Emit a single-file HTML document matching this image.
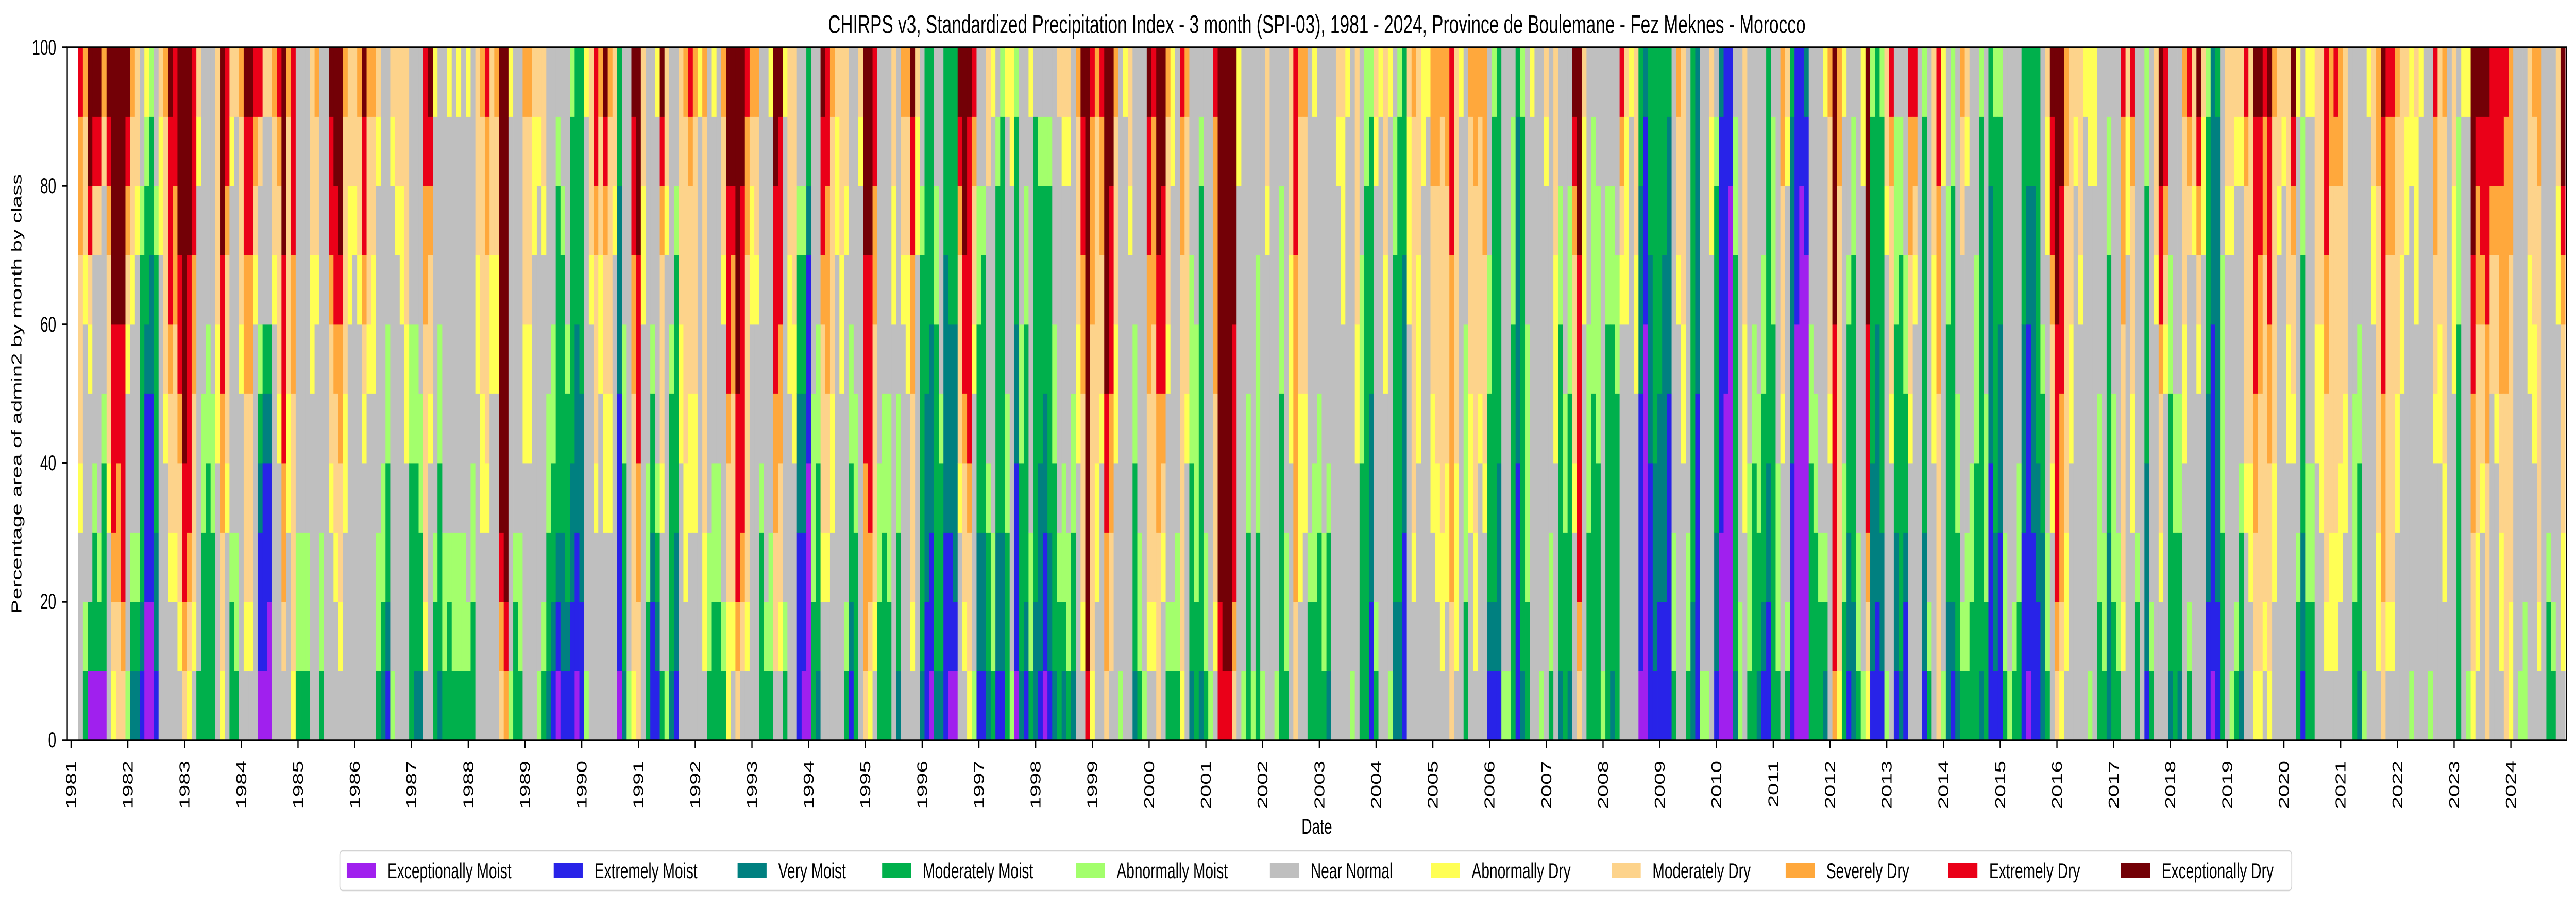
<!DOCTYPE html>
<html>
<head>
<meta charset="utf-8">
<style>
  html, body { margin:0; padding:0; background:#ffffff; width:100vw; height:100vh; overflow:hidden; }
  #chart { display:block; width:100vw; height:100vh; }
  svg text { font-family: "Liberation Sans", "DejaVu Sans", sans-serif; fill:#000; }
</style>
</head>
<body>
<svg id="chart" xmlns="http://www.w3.org/2000/svg" viewBox="0 0 7467 1763" preserveAspectRatio="none">
  <rect x="0" y="0" width="7467" height="1763" fill="#ffffff"></rect>
  <text x="3817" y="48" font-size="50" text-anchor="middle" dominant-baseline="central">CHIRPS v3, Standardized Precipitation Index - 3 month (SPI-03), 1981 - 2024, Province de Boulemane - Fez Meknes - Morocco</text>
  <g id="bars"></g>
  <g id="axes"></g>
  <text x="48" y="765" font-size="42" text-anchor="middle" dominant-baseline="central" transform="rotate(-90 48 765)">Percentage area of admin2 by month by class</text>
  <text x="3817" y="1605" font-size="42" text-anchor="middle" dominant-baseline="central">Date</text>
  <g id="legend"></g>
</svg>
<script>
// ---- chart data ----
// Each bar code: letters bottom->top, each letter = equal share of 100%.
// a=Exceptionally Moist b=Extremely Moist c=Very Moist d=Moderately Moist e=Abnormally Moist
// n=Near Normal f=Abnormally Dry g=Moderately Dry h=Severely Dry i=Extremely Dry j=Exceptionally Dry
const startYear = 1981;
const startMonth = 3;
const barCodes = [
"nnnfggghhi","dennnnfggh","adnnnfgijj","addennngij","adennnngij","adddennngh","nnnfggghij","fghiiijjjj","gghhiijjjj","ghiiiijjjj",
"ennnnfghij","cdennnfggh","cdennnnfgg","bcdddddenn","aabbbcddef","aabbbccdde","bccddddenn","nnnnnnnffg","nnnnfggggh","nnfgghiiij",
"nnfggghhii","nfgghiijjj","ghiijjjjjj","fghiiiijjj","nfggghhiii","dnnnnnnnfg","dddeennnnn","ddddeennnn","dddeennnnn","nnnnffgggg",
"fgghhiijjj","nnnfggghii","ddennnnnfg","deennnnnng","nnnnnfgggh","nfggghhiij","nfggghhiij","nnnnnnfghi","abbcdenngi","abbbcdnnng",
"aabbcdnnng","nnnnnnfggh","nnnnfggghi","nghhiiijjj","nnnffggggh","fgggghhiii","deennnnnnn","deennnnnnn","deennnnnnn","nnnnnffggg",
"nnnnnnfggh","deennnnnnn","nnnnnnnnnn","nnnfgghiij","nnfgghiijj","nfgghhijjj","nnnffggggh","nnnnnnffgg","nnnnnnnfgg","nnnnnnfggh",
"nnnnfghiij","nnnnnfgggh","nnnnnffggh","deennnnnfg",
"cdeennnnnn","bcddeennnn","ennnnnnnfg","nnnnnnnfgg","nnnnnnffgg","nnnnffgggg","ddddeennnn","cdddeennnn","cddeennnnn","nfgggghhii",
"nnnnfgghij","ddennnnnnf","cdddeennnn","deennnnnnn","ddennnnnnf","deennnnnnn","deennnnnnf","deennnnnnn","dennnnnnnf","ddeennnnnn",
"nnnnnffggg","nnnffggggh","nnnfggghhi","nnnnnffggg","nnnnnffggh","ghijjjjjjj","hijjjjjjjj","ennnnnnnnf","ddennnnnnn","deennnnnnn",
"nnnnffgggh","nnnnffgggh","nnnnnnnffg","ennnnnnnfg","dennnnnfgg","cddeennnnn","bcddeennnn","abcddddden","bccddddenn","bcdddennnn",
"bbccddddde","abbcccdddd","bbcccddddd","ennnnnnnnf","nnnnnnfggg","nnnfggghii","nnnnnffggh","nnnffgghij","nnnffggggh","nnnnnnnfgg",
"abbbbcccdd","cdddeennnn","ennnnnnnnn","fgggghhiij","gghhiiijjj","nnnnnnffgg","ddeennnnnn","bbcddennnn","bcdennnnnf","dnnfggghij",
"ennnnnnfgg","cddddennnn","bccddddenn","nnnnffgggg","nnffgggggh","nnnffggghi",
"nnnffggggh","nnnnnnnnnf","nffggggggh","deennnnnnn","ddeennnnnf","ddeennnnnn","dennnnfggh","ffgghiiijj","nfggghhijj","ghiiijjjjj",
"nghiiiiijj","nfggggghhi","nnnnnnffgh","nnnnnnfggh","dddennnnnn","dennnnnnnn","deennnnnnf","ngghhiiijj","nfgghhiiij","dennnnnnnf",
"nnnnnffggg","nnnnffgggg","bbbccddenn","abbccddenn","aaaabbbcdd","ddeeennnnn","cdddeennnn","nnfggghiij","nnfgghhhii","nnnffggggh",
"nnnnnnnffg","nnnnnffggg","dennnnnfgg","bcddeennnn","dddeennnnn","nnnnnnnnfg","ghhhiiijjj","fghiiiijjj","nfgggghhii","ddeennnnnn",
"dddeennnnn","ddeeennnnn","nnnnnnffgg","cddeennnnn","nnnnnnfggh","nnnnnffggh","nfggghhiij","nnnnnnnffg","cddddddenn","bbcccddddd",
"abbcccdddd","cdddddeenn","cdddennnnn","bbbccccddd","abbcccdddd","abccccdddd","nnnfggghij","nfgghiijjj","fgghiiiiij","ennnnfgghi",
"bccdddeenn","bccddddenn","cddennnngg","deennnnnnf","bccddddden","bccdddddde",
"dddeennnnf","ennnnnnnff","abbbccddde","cdddeennnn","bcddddeenn","deennnnnnf","ccdddddddn","bcccdddden","abbccddden","bccddddden",
"cdddeennnn","ddennnnnng","cdeennnnfg","deennnnnfg","cddeennnnn","nnnnffgggh","nfggghhiij","ijjjjjjjjj","fggggghhhi","nnffgggggh",
"nnnnfgghhi","ghhiijjjjj","ngghhiiijj","nnnnffgggh","ennnnnnnnn","nnnnnnnnnf","nnnnnnnfgg","cdddeennnn","deennnnnnn","ennnnnnnnn",
"nfggghhiij","nfgggghhhi","ggghhiijjj","nnfghiiijj","dennnfgggh","dennnnnnff","deennnnnnn","fgggggghhi","nnnnfggggh","cdddeeennn",
"ddeeeennnn","cddddddden","deennnnnnn","ennnnnnnnn","nfggghhhhi","iijjjjjjjj","ijjjjjjjjj","ijjjjjjjjj","ghiiiijjjj","nnnnnnnnff",
"ennnnnnnnn","dddeennnnn","ennnnnnnnn","dddeeeennn","ennnnnnnnn","nnnnnnnfgg","nnnnnnnnnn","ennnnnnnnn","dddddeeenn","deennnnnnn",
"nnnnfffggg","gghhhhhiii","nnfffggggh","nnnffggggh","ddennnnnnn","ddeennnnnf",
"dddeennnnn","deennnnnnn","cddennnnnn","nnnnnnnnnn","nnnnnnnnfg","nnnnnnfffg","nnnnnnnnnf","ennnnnnnnn","nnnnffgggg","ddddeeennn",
"ddddddddee","bbcccdddde","dennnnnnfg","nnnnnnnnnf","nnnnnffggg","ennnnnnnnf","ccdddddeen","ccddddddde","bbbccccddd","nnnnnnfffg",
"nnfggggggh","nnnnfffggg","nnnnnnnnff","nnnnnnnnnf","nnnffggghh","nnffgggghh","nffggggggh","nnffgggghh","gghhhhhiii","nfffgggggg",
"nnnnnnnnnf","ddeeeennnn","nnnffggggh","nffggggghh","nnnnfggggh","nnnfggghhh","bcdddeennn","bcddddddde","bcccdddddd","ennnnnnnnn",
"ennnnnnnnn","ddddddeeen","bbbbcccccd","cdddddddde","ddeeeennnn","nnnnnnnnnf","nnnnnnnnnn","ennnnnnnnn","nnnnnnnnfg","deennnnnnn",
"nnnnfffggg","cdddddeenn","dddeennnnn","cddddeeenn","nnnfggghij","ghiiiiijjj","nnnnnnfffg","dddeeennnn","dddddeeeen","ddddeeeenn",
"ennnnnnnnn","ddddddeenn","cdddddeenn","dddddeennn","nnnnnnfghi","nnnnnnfffg",
"nnnnnnnnnf","nnnnnffggg","abbbbcccdd","aaaaaabbbc","bbbbcccddd","bcccdddddd","bbcccddddd","bbcccccddd","bbbbbccccd","deennnnnnn",
"nnnnnnfggh","nnnnffgggg","deennnnnnn","ccdddddddd","bbbbbccccc","ennnnnnnnn","ennnnnnnnn","nnnnnnnffg","bccddddden","aaabbbbbbc",
"aaaaabbbbb","aaaaaaaabb","cddddddeen","eennnnnnnn","nnnfffgggg","deeennnnnn","ddddeennnn","cddeennnnn","bcdddeennn","bbccdddddd",
"ddddddeeen","deeennnnnn","nnnnfggghh","dennnnnnfg","bbbbcccccd","aaaaaabbbb","aaaaaaaabb","aaaaaaabbc","ddddeennnn","dddeennnnn",
"ddennnnnnn","cdennnnnnf","nnnnfggggh","hiiiiijjjj","fggggggghh","ddeennnnnf","bccdddennn","ccdddddeen","deennnnnnn","ennnnnnnff",
"fghiiijjjj","bcccddddde","bbccccdddd","bccdddddde","ennnnnnfgg","nnnnfggghi","bccdddeeen","cddddddeen","bbcddeennn","nnnnfgghhi",
"nnnnnnfghi","nnnnnnnnnn","bccdddddde","dennnnnnnn","fnnnnffggg","ggggghhhii",
"ennnnnnnff","ccddddeenn","bcddddddee","cddeennnnn","dennnnnggh","deennnnnfg","ddeennnnnn","ddddeeennn","cdddddddde","ddeeennnnn",
"bbbbccccdd","bccdddddde","bbbcccddde","deennnnnnn","ennnnnnnnn","dennnnnnnn","ddeennnnnn","bbbcccdddd","abbbbbccdd","bbbcccccdd",
"bbccdddddd","cccddennnn","deennnnffg","nnnfgghiij","ghiiiijjjj","fghhhiiijj","nffggggghh","nnnnffgggg","nnnnnnnnfg","nnnnnnfggg",
"nnnnnnnnnf","ennnnnnnff","nnnnnnnnff","ddeeennnnn","deennnnnnn","cccddddeen","ddeeennnnn","deennnnnnn","nfgggghhhi","nnnnnnnffg",
"nnnffggghi","ddennnnnnn","nnnnnnnnnn","bcccddddee","dennnnnnnn","nnnnnnfggg","nnfgghiijj","nnnnnfghii","cddddeennn","dddeennnnn",
"cddeennnnn","nnnnffgggh","dennnnnghi","nnnnnnnfgg","nnnnnfghij","nnnnnnnffg","bbcccdddde","abbbbbcccc","bbcccccccd","dddeeeennn",
"nnnnnnnfgg","ennnnnnfgg","dennnnnnfg","cddennnnfg","nnnfgggghi","nnffgggggg",
"fgghhiiiij","fgggghhiij","nfggggghhi","fggghhiiij","nnffgggggh","nnnnnnnfgg","nnnnnnnnfg","nnnnffgggg","nnnnfgghij","ddennnnnnf",
"bccddddeen","ddeennnnnf","ddeennnnnf","nnnnffgggg","nnnfffgggg","nfggghhiii","nffggggghh","nffggggghi","nnffgggghh","nnnffggggg",
"nnnnnnnnnn","ddeeennnnn","cdddeennnn","ennnnnnnnn","nnnnnnnnnf","nnnnnnffgg","nffggggghh","gghhhiiiij","nfggggghhi","nfggggghhi",
"nnnffggggh","nnnnnffggg","nnnnnnnffg","ennnnnnnff","nnnnnnfffg","nnnnnnnnnf","nnnnnnnnnn","ennnnnnnnn","nnnnfgghhi","nnnnffgggg",
"nnffgggggh","nnnnnnnnnn","nnnnnfffgg","ddddddeeen","nnnnnnnnnf","ennnnnnnnf","fgghhiijjj","nffggghhij","nnnfgghiij","gggghhiiij",
"nnnnngghii","nnnnfgghii","nffgghhhii","ggggghhhhi","ffggggghhh","nnnnnnnnnn","ennnnnnnnn","eennnnnnnn","nnnnnffggg","nnnnffgggh",
"nfgggggghh","nnnnnnnnnn","ddennnnnnn","dennnnnnnn","nnnnnnffgg","nffggghijj"
];
function share(code, ch) {
  let count = 0;
  for (const c of code) if (c === ch) count++;
  return 100 * count / code.length;
}
const exceptionallyMoist = barCodes.map(c => share(c, 'a'));
const extremelyMoist = barCodes.map(c => share(c, 'b'));
const veryMoist = barCodes.map(c => share(c, 'c'));
const moderatelyMoist = barCodes.map(c => share(c, 'd'));
const abnormallyMoist = barCodes.map(c => share(c, 'e'));
const nearNormal = barCodes.map(c => share(c, 'n'));
const abnormallyDry = barCodes.map(c => share(c, 'f'));
const moderatelyDry = barCodes.map(c => share(c, 'g'));
const severelyDry = barCodes.map(c => share(c, 'h'));
const extremelyDry = barCodes.map(c => share(c, 'i'));
const exceptionallyDry = barCodes.map(c => share(c, 'j'));
const seriesValues = [exceptionallyMoist, extremelyMoist, veryMoist, moderatelyMoist, abnormallyMoist, nearNormal, abnormallyDry, moderatelyDry, severelyDry, extremelyDry, exceptionallyDry];
const classNames = ["Exceptionally Moist","Extremely Moist","Very Moist","Moderately Moist","Abnormally Moist","Near Normal","Abnormally Dry","Moderately Dry","Severely Dry","Extremely Dry","Exceptionally Dry"];
const classKeys = ["exceptionally-moist","extremely-moist","very-moist","moderately-moist","abnormally-moist","near-normal","abnormally-dry","moderately-dry","severely-dry","extremely-dry","exceptionally-dry"];
const classColors = ["#a020ee","#2823e8","#008080","#00b04c","#a3ff6c","#bfbfbf","#ffff55","#fdd38b","#ffa83c","#ea0018","#730006"];
const yTicks = [0, 20, 40, 60, 80, 100];
const yearTicks = [1981,1982,1983,1984,1985,1986,1987,1988,1989,1990,1991,1992,1993,1994,1995,1996,1997,1998,1999,2000,2001,2002,2003,2004,2005,2006,2007,2008,2009,2010,2011,2012,2013,2014,2015,2016,2017,2018,2019,2020,2021,2022,2023,2024];
const legendX = [1005,1605,2138,2557,3119,3681,4148,4672,5176,5648,6148];

// ---- geometry ----
const NS = "http://www.w3.org/2000/svg";
const plotL = 195, plotR = 7439, plotT = 92, plotB = 1437;
const x0Year = 1981, x0Px = 206, pxPerYear = 164.47;
const monthPx = pxPerYear / 12;
function xScale(yearFloat) { return x0Px + (yearFloat - x0Year) * pxPerYear; }
function yScale(v) { return plotB - v / 100 * (plotB - plotT); }
function mk(tag, attrs, parent) {
  const el = document.createElementNS(NS, tag);
  for (const k in attrs) el.setAttribute(k, attrs[k]);
  parent.appendChild(el);
  return el;
}

// ---- bars ----
const barsG = document.getElementById('bars');
for (let k = 0; k < barCodes.length; k++) {
  const m = (startMonth - 1) + k;
  const cx = xScale(startYear + m / 12);
  const left = cx - monthPx / 2;
  let cum = 0;
  for (let s = 0; s < seriesValues.length; s++) {
    const v = seriesValues[s][k];
    if (!v) continue;
    const yTop = yScale(cum + v), yBot = yScale(cum);
    const r = mk('rect', {x: left.toFixed(2), y: yTop.toFixed(2), width: (monthPx + 0.6).toFixed(2), height: (yBot - yTop + 0.4).toFixed(2), fill: classColors[s]}, barsG);
    
    
    cum += v;
  }
}

// ---- axes ----
const axesG = document.getElementById('axes');
const frame = mk('rect', {x: plotL, y: plotT, width: plotR - plotL, height: plotB - plotT, fill: 'none', stroke: '#000', 'stroke-width': 3.5}, axesG);


for (const t of yTicks) {
  const y = yScale(t);
  const tk = mk('line', {x1: plotL - 15, x2: plotL, y1: y, y2: y, stroke: '#000', 'stroke-width': 3.5}, axesG);
  
  
  const tl = mk('text', {x: 163, y: y, 'font-size': 42, 'text-anchor': 'end', 'dominant-baseline': 'central'}, axesG);
  tl.textContent = String(t);
  
  
}
for (const yr of yearTicks) {
  const x = xScale(yr);
  const tk = mk('line', {x1: x, x2: x, y1: plotB, y2: plotB + 15, stroke: '#000', 'stroke-width': 3.5}, axesG);
  
  
  const tl = mk('text', {x: x, y: 1477, 'font-size': 42, 'text-anchor': 'end', 'dominant-baseline': 'central', transform: 'rotate(-90 ' + x + ' 1477)'}, axesG);
  tl.textContent = String(yr);
  
  
}

// ---- legend ----
const legG = document.getElementById('legend');
const box = mk('rect', {x: 985, y: 1652, width: 5658, height: 77, rx: 8, fill: '#fff', stroke: '#d3d3d3', 'stroke-width': 2.5}, legG);


for (let s = 0; s < classNames.length; s++) {
  const g = mk('g', {}, legG);
  
  
  const p = mk('rect', {x: legendX[s], y: 1676, width: 84, height: 29, fill: classColors[s]}, g);
  
  
  const t = mk('text', {x: legendX[s] + 118, y: 1691, 'font-size': 42, 'dominant-baseline': 'central'}, g);
  t.textContent = classNames[s];
  
  
}
</script>
</body>
</html>
